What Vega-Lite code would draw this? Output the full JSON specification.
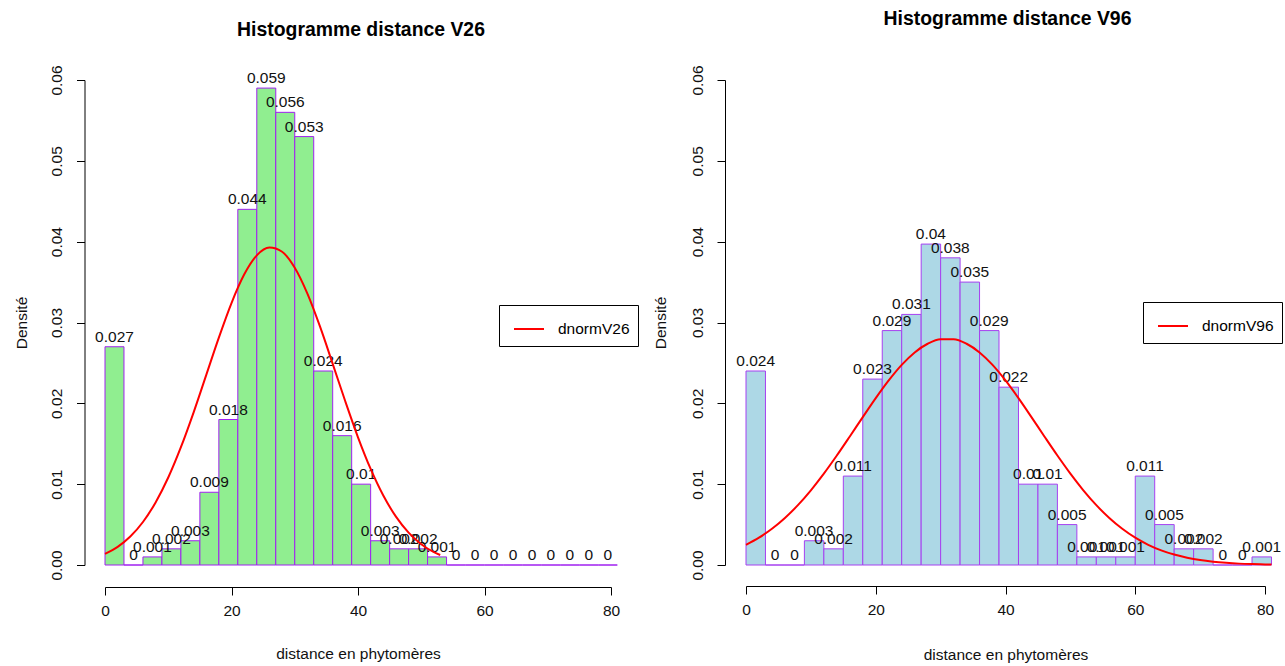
{
  "$schema": "https://vega.github.io/schema/vega-lite/v6.json",
  "padding": {"left": 14, "top": 8, "right": 0, "bottom": 0},
  "background": "white",
  "config": {
    "view": {"stroke": null},
    "font": "Liberation Sans",
    "axis": {
      "domainColor": "#000", "tickColor": "#000", "domainWidth": 1, "tickWidth": 1,
      "labelColor": "#111", "titleColor": "#111", "grid": false,
      "labelFontSize": 15.5, "titleFontSize": 15.5, "titleFontWeight": "normal",
      "labelFont": "Liberation Sans", "titleFont": "Liberation Sans",
      "labelFlush": false, "labelOverlap": false
    },
    "legend": {
      "strokeColor": "#000", "padding": 8, "symbolOffset": 6, "labelOffset": 13,
      "symbolType": "stroke", "symbolSize": 900, "symbolStrokeWidth": 2,
      "labelFontSize": 15.5, "labelColor": "#000", "labelFont": "Liberation Sans", "title": null
    }
  },
  "resolve": {"scale": {"color": "independent"}, "legend": {"color": "independent"}},
  "spacing": 135,
  "bounds": "flush",
  "hconcat": [
    {
      "width": 506,
      "height": 485,
      "title": {"text": "Histogramme distance V26", "fontSize": 19.4, "fontWeight": "bold", "offset": 10, "baseline": "alphabetic", "anchor": "middle", "dx": 3, "color": "#000", "font": "Liberation Sans"},
      "encoding": {
        "x": {"field": "x", "type": "quantitative",
              "scale": {"domain": [0, 80], "nice": false, "zero": false},
              "axis": {"values": [0, 20, 40, 60, 80], "offset": 22, "tickSize": 8, "labelPadding": 8, "labelBaseline": "top", "title": "distance en phytomères", "titlePadding": 28}},
        "y": {"field": "d", "type": "quantitative",
              "scale": {"domain": [0, 0.06], "nice": false},
              "axis": {"values": [0, 0.01, 0.02, 0.03, 0.04, 0.05, 0.06], "format": ".2f", "offset": 20.5, "tickSize": 8, "labelAngle": -90, "labelAlign": "center", "labelBaseline": "bottom", "labelPadding": 12, "title": "Densité", "titlePadding": 20}}
      },
      "layer": [
        {
          "data": {"name": "binsV26", "values": [
            {"x": 0, "xe": 3, "d": 0.027}, {"x": 3, "xe": 6, "d": 0}, {"x": 6, "xe": 9, "d": 0.001},
            {"x": 9, "xe": 12, "d": 0.002}, {"x": 12, "xe": 15, "d": 0.003}, {"x": 15, "xe": 18, "d": 0.009},
            {"x": 18, "xe": 21, "d": 0.018}, {"x": 21, "xe": 24, "d": 0.044}, {"x": 24, "xe": 27, "d": 0.059},
            {"x": 27, "xe": 30, "d": 0.056}, {"x": 30, "xe": 33, "d": 0.053}, {"x": 33, "xe": 36, "d": 0.024},
            {"x": 36, "xe": 39, "d": 0.016}, {"x": 39, "xe": 42, "d": 0.010}, {"x": 42, "xe": 45, "d": 0.003},
            {"x": 45, "xe": 48, "d": 0.002}, {"x": 48, "xe": 51, "d": 0.002}, {"x": 51, "xe": 54, "d": 0.001},
            {"x": 54, "xe": 57, "d": 0}, {"x": 57, "xe": 60, "d": 0}, {"x": 60, "xe": 63, "d": 0},
            {"x": 63, "xe": 66, "d": 0}, {"x": 66, "xe": 69, "d": 0}, {"x": 69, "xe": 72, "d": 0},
            {"x": 72, "xe": 75, "d": 0}, {"x": 75, "xe": 78, "d": 0}, {"x": 78, "xe": 81, "d": 0}
          ]},
          "mark": {"type": "rect", "fill": "#90EE90", "stroke": "#A020F0", "strokeWidth": 1},
          "encoding": {"x2": {"field": "xe"}, "y2": {"datum": 0}}
        },
        {
          "data": {"name": "binsV26"},
          "mark": {"type": "text", "baseline": "alphabetic", "align": "center", "dx": 9.5, "dy": -5, "fontSize": 15.5, "color": "#111", "font": "Liberation Sans"},
          "encoding": {"text": {"field": "d", "type": "quantitative", "format": ".3~f"}}
        },
        {
          "data": {"values": [
            {"x": 0, "d": 0.00137, "serie": "dnormV26"}, {"x": 2, "d": 0.00224, "serie": "dnormV26"},
            {"x": 4, "d": 0.00352, "serie": "dnormV26"}, {"x": 6, "d": 0.00532, "serie": "dnormV26"},
            {"x": 8, "d": 0.00774, "serie": "dnormV26"}, {"x": 10, "d": 0.01082, "serie": "dnormV26"},
            {"x": 12, "d": 0.01457, "serie": "dnormV26"}, {"x": 14, "d": 0.01886, "serie": "dnormV26"},
            {"x": 16, "d": 0.02349, "serie": "dnormV26"}, {"x": 18, "d": 0.02813, "serie": "dnormV26"},
            {"x": 20, "d": 0.03241, "serie": "dnormV26"}, {"x": 22, "d": 0.03593, "serie": "dnormV26"},
            {"x": 24, "d": 0.03831, "serie": "dnormV26"}, {"x": 26, "d": 0.03928, "serie": "dnormV26"},
            {"x": 28, "d": 0.03875, "serie": "dnormV26"}, {"x": 30, "d": 0.03677, "serie": "dnormV26"},
            {"x": 32, "d": 0.03357, "serie": "dnormV26"}, {"x": 34, "d": 0.02948, "serie": "dnormV26"},
            {"x": 36, "d": 0.02489, "serie": "dnormV26"}, {"x": 38, "d": 0.02022, "serie": "dnormV26"},
            {"x": 40, "d": 0.0158, "serie": "dnormV26"}, {"x": 42, "d": 0.01188, "serie": "dnormV26"},
            {"x": 44, "d": 0.00859, "serie": "dnormV26"}, {"x": 46, "d": 0.00598, "serie": "dnormV26"},
            {"x": 48, "d": 0.0040, "serie": "dnormV26"}, {"x": 50, "d": 0.00257, "serie": "dnormV26"},
            {"x": 52, "d": 0.00159, "serie": "dnormV26"}, {"x": 53, "d": 0.00124, "serie": "dnormV26"}
          ]},
          "mark": {"type": "line", "strokeWidth": 2, "interpolate": "monotone"},
          "encoding": {
            "color": {"field": "serie", "type": "nominal", "scale": {"range": ["#FF0000"]},
                      "legend": {"orient": "none", "legendX": 394, "legendY": 225}}
          }
        }
      ]
    },
    {
      "width": 519,
      "height": 485,
      "title": {"text": "Histogramme distance V96", "fontSize": 19.4, "fontWeight": "bold", "offset": 21, "baseline": "alphabetic", "anchor": "middle", "dx": 2, "color": "#000", "font": "Liberation Sans"},
      "encoding": {
        "x": {"field": "x", "type": "quantitative",
              "scale": {"domain": [0, 80], "nice": false, "zero": false},
              "axis": {"values": [0, 20, 40, 60, 80], "offset": 21, "tickSize": 8, "labelPadding": 8, "labelBaseline": "top", "title": "distance en phytomères", "titlePadding": 30}},
        "y": {"field": "d", "type": "quantitative",
              "scale": {"domain": [0, 0.06], "nice": false},
              "axis": {"values": [0, 0.01, 0.02, 0.03, 0.04, 0.05, 0.06], "format": ".2f", "offset": 21, "tickSize": 8, "labelAngle": -90, "labelAlign": "center", "labelBaseline": "bottom", "labelPadding": 12, "title": "Densité", "titlePadding": 22}}
      },
      "layer": [
        {
          "data": {"name": "binsV96", "values": [
            {"x": 0, "xe": 3, "d": 0.024}, {"x": 3, "xe": 6, "d": 0}, {"x": 6, "xe": 9, "d": 0},
            {"x": 9, "xe": 12, "d": 0.003}, {"x": 12, "xe": 15, "d": 0.002}, {"x": 15, "xe": 18, "d": 0.011},
            {"x": 18, "xe": 21, "d": 0.023}, {"x": 21, "xe": 24, "d": 0.029}, {"x": 24, "xe": 27, "d": 0.031},
            {"x": 27, "xe": 30, "d": 0.0397}, {"x": 30, "xe": 33, "d": 0.038}, {"x": 33, "xe": 36, "d": 0.035},
            {"x": 36, "xe": 39, "d": 0.029}, {"x": 39, "xe": 42, "d": 0.022}, {"x": 42, "xe": 45, "d": 0.010},
            {"x": 45, "xe": 48, "d": 0.010}, {"x": 48, "xe": 51, "d": 0.005}, {"x": 51, "xe": 54, "d": 0.001},
            {"x": 54, "xe": 57, "d": 0.001}, {"x": 57, "xe": 60, "d": 0.001}, {"x": 60, "xe": 63, "d": 0.011},
            {"x": 63, "xe": 66, "d": 0.005}, {"x": 66, "xe": 69, "d": 0.002}, {"x": 69, "xe": 72, "d": 0.002},
            {"x": 72, "xe": 75, "d": 0}, {"x": 75, "xe": 78, "d": 0}, {"x": 78, "xe": 81, "d": 0.001}
          ]},
          "mark": {"type": "rect", "fill": "#ADD8E6", "stroke": "#A640F0", "strokeWidth": 1},
          "encoding": {"x2": {"field": "xe"}, "y2": {"datum": 0}}
        },
        {
          "data": {"name": "binsV96"},
          "mark": {"type": "text", "baseline": "alphabetic", "align": "center", "dx": 9.7, "dy": -5, "fontSize": 15.5, "color": "#111", "font": "Liberation Sans"},
          "encoding": {"text": {"field": "d", "type": "quantitative", "format": ".3~f"}}
        },
        {
          "data": {"values": [
            {"x": 0, "d": 0.0025, "serie": "dnormV96"}, {"x": 2, "d": 0.00338, "serie": "dnormV96"},
            {"x": 4, "d": 0.00448, "serie": "dnormV96"}, {"x": 6, "d": 0.00582, "serie": "dnormV96"},
            {"x": 8, "d": 0.0074, "serie": "dnormV96"}, {"x": 10, "d": 0.00924, "serie": "dnormV96"},
            {"x": 12, "d": 0.0113, "serie": "dnormV96"}, {"x": 14, "d": 0.01354, "serie": "dnormV96"},
            {"x": 16, "d": 0.0159, "serie": "dnormV96"}, {"x": 18, "d": 0.0183, "serie": "dnormV96"},
            {"x": 20, "d": 0.02065, "serie": "dnormV96"}, {"x": 22, "d": 0.02284, "serie": "dnormV96"},
            {"x": 24, "d": 0.02476, "serie": "dnormV96"}, {"x": 26, "d": 0.0263, "serie": "dnormV96"},
            {"x": 28, "d": 0.02737, "serie": "dnormV96"}, {"x": 30, "d": 0.02793, "serie": "dnormV96"},
            {"x": 32, "d": 0.02793, "serie": "dnormV96"}, {"x": 34, "d": 0.02737, "serie": "dnormV96"},
            {"x": 36, "d": 0.0263, "serie": "dnormV96"}, {"x": 38, "d": 0.02476, "serie": "dnormV96"},
            {"x": 40, "d": 0.02284, "serie": "dnormV96"}, {"x": 42, "d": 0.02065, "serie": "dnormV96"},
            {"x": 44, "d": 0.0183, "serie": "dnormV96"}, {"x": 46, "d": 0.0159, "serie": "dnormV96"},
            {"x": 48, "d": 0.01354, "serie": "dnormV96"}, {"x": 50, "d": 0.0113, "serie": "dnormV96"},
            {"x": 52, "d": 0.00924, "serie": "dnormV96"}, {"x": 54, "d": 0.0074, "serie": "dnormV96"},
            {"x": 56, "d": 0.00582, "serie": "dnormV96"}, {"x": 58, "d": 0.00448, "serie": "dnormV96"},
            {"x": 60, "d": 0.00338, "serie": "dnormV96"}, {"x": 62, "d": 0.0025, "serie": "dnormV96"},
            {"x": 64, "d": 0.00181, "serie": "dnormV96"}, {"x": 66, "d": 0.00129, "serie": "dnormV96"},
            {"x": 68, "d": 0.0009, "serie": "dnormV96"}, {"x": 70, "d": 0.00061, "serie": "dnormV96"},
            {"x": 72, "d": 0.00041, "serie": "dnormV96"}, {"x": 74, "d": 0.00027, "serie": "dnormV96"},
            {"x": 76, "d": 0.00017, "serie": "dnormV96"}, {"x": 78, "d": 0.00011, "serie": "dnormV96"},
            {"x": 80, "d": 0.00007, "serie": "dnormV96"}, {"x": 81, "d": 0.00005, "serie": "dnormV96"}
          ]},
          "mark": {"type": "line", "strokeWidth": 2, "interpolate": "monotone"},
          "encoding": {
            "color": {"field": "serie", "type": "nominal", "scale": {"range": ["#FF0000"]},
                      "legend": {"orient": "none", "legendX": 397, "legendY": 222}}
          }
        }
      ]
    }
  ]
}
